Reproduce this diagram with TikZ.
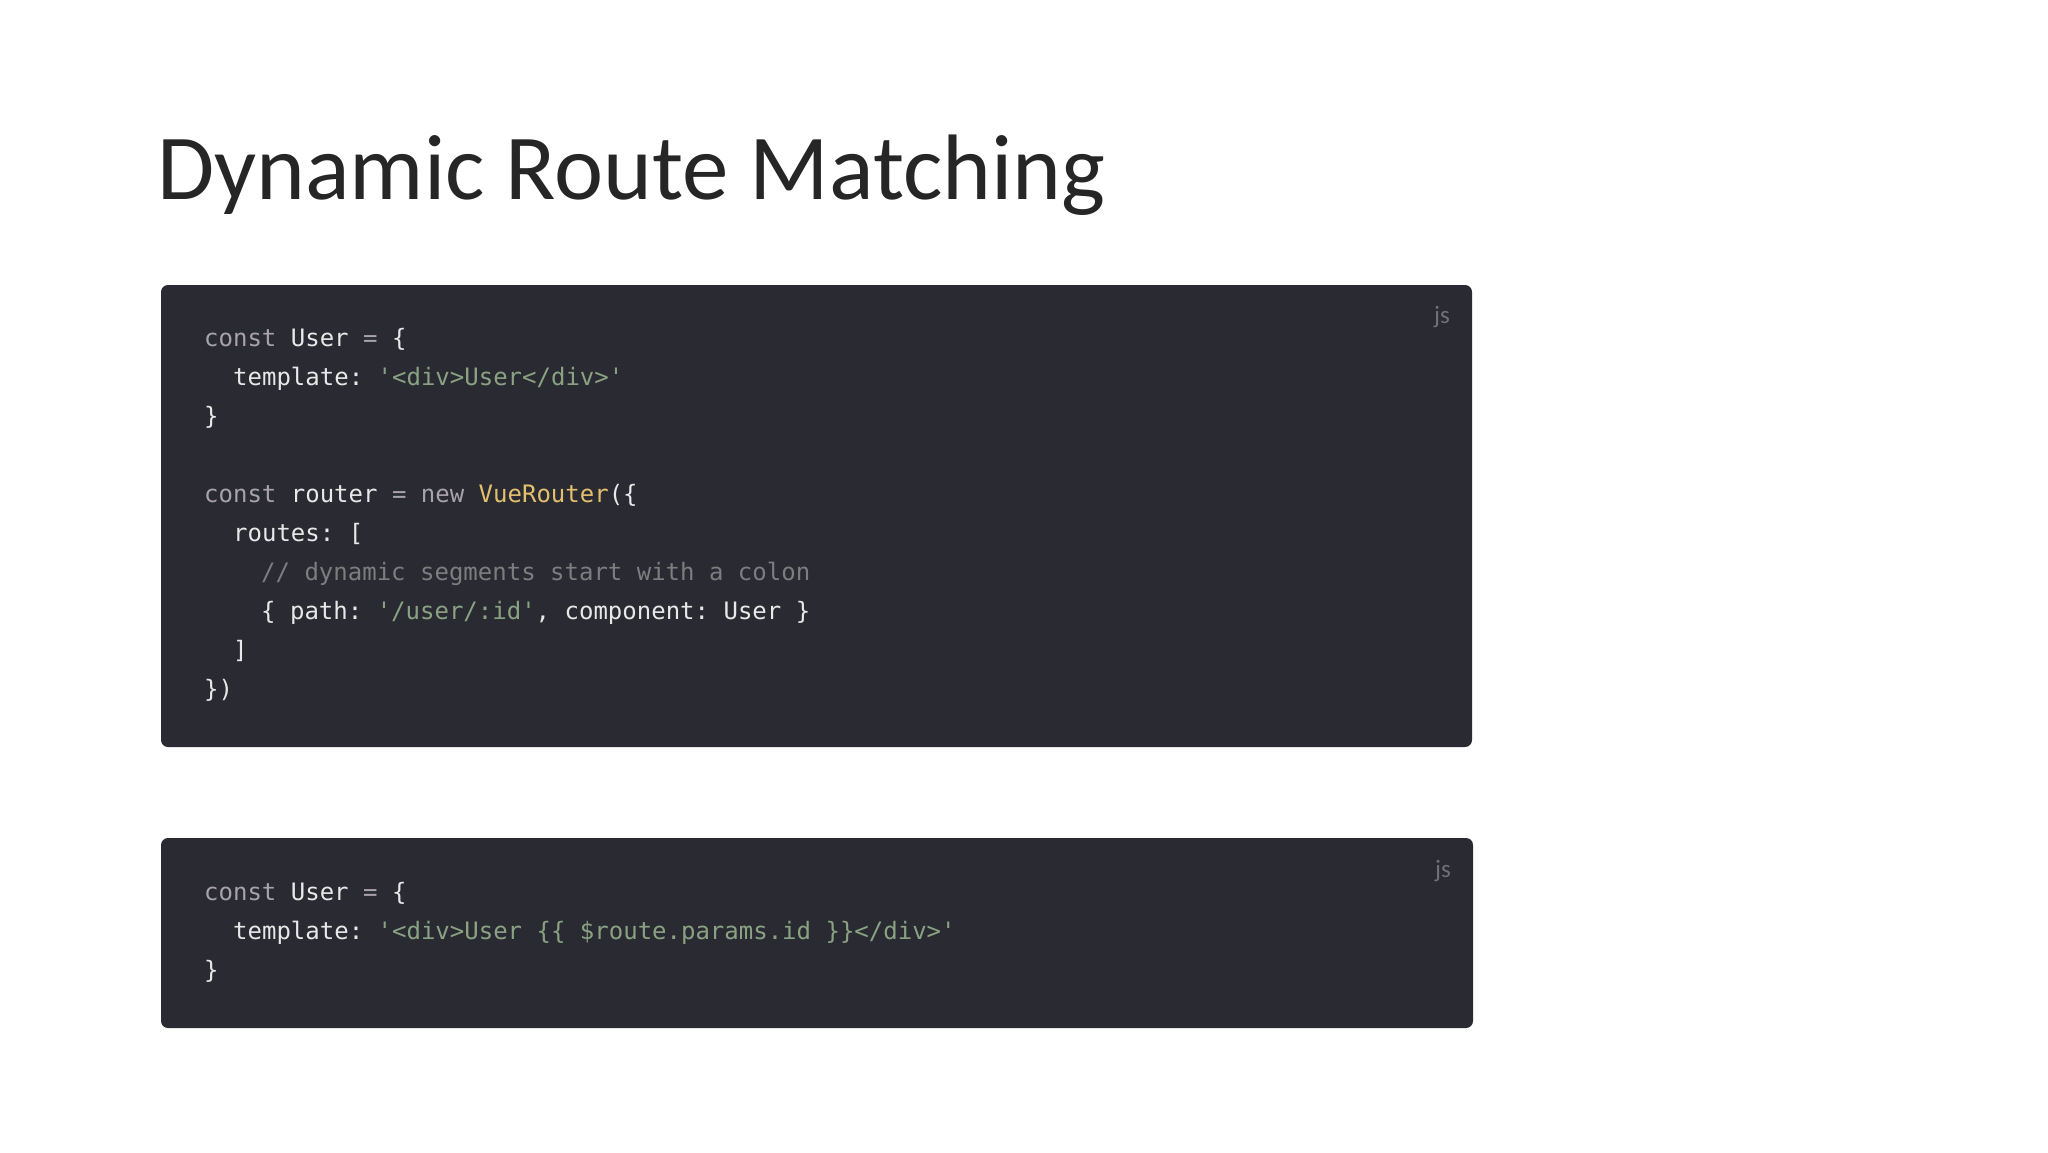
\documentclass[tikz,border=0pt]{standalone}
\usepackage{fontspec}
\setmainfont{Carlito}
\setmonofont{DejaVu Sans Mono}
\usetikzlibrary{positioning}
\definecolor{codebg}{RGB}{42,43,50}
\definecolor{codefg}{RGB}{232,232,232}
\definecolor{kwgray}{RGB}{168,162,172}
\definecolor{strgreen}{RGB}{138,162,130}
\definecolor{fnyellow}{RGB}{228,192,110}
\definecolor{cmtgray}{RGB}{125,125,128}
\definecolor{jsgray}{RGB}{112,112,118}
\newcommand{\codeSize}{\fontsize{24}{29}\selectfont}
\newcommand{\kw}[1]{\textcolor{kwgray}{#1}}
\newcommand{\strg}[1]{\textcolor{strgreen}{#1}}
\newcommand{\fnc}[1]{\textcolor{fnyellow}{#1}}
\newcommand{\cmt}[1]{\textcolor{cmtgray}{#1}}

\begin{document}
\begin{tikzpicture}[x=1pt, y=-1pt,
	codebox/.style={fill=codebg, rounded corners=7pt},
	codeline/.style={anchor=base west, inner sep=0pt, text=codefg, font=\ttfamily\codeSize},
	jslabel/.style={anchor=base, inner sep=0pt, text=jsgray, font=\fontsize{25}{28}\selectfont}]
		\useasboundingbox (0,0) rectangle (2048,1152);
		\node[anchor=base west, inner sep=0pt, text=black!85, font=\fontsize{93}{110}\selectfont] (title) at (157,199) {Dynamic Route Matching};
		%first code block
		\fill[codebox] (161,285) rectangle (1472,747);
		\node[jslabel] (js1) at (1442,323) {js};
		\node[codeline] (u1) at (204,346) {\kw{const} User \kw{=} \{};
		\node[codeline] (u2) at (233,385) {template: \strg{'<div>User</div>'}};
		\node[codeline] (u3) at (204,424) {\}};
		\node[codeline] (r1) at (204,502) {\kw{const} router \kw{= new} \fnc{VueRouter}(\{};
		\node[codeline] (r2) at (233,541) {routes: [};
		\node[codeline] (r3) at (261,580) {\cmt{// dynamic segments start with a colon}};
		\node[codeline] (r4) at (261,619) {\{ path: \strg{'/user/:id'}, component: User \}};
		\node[codeline] (r5) at (233,658) {]};
		\node[codeline] (r6) at (204,697) {\})};
		%second code block
		\fill[codebox] (161,838) rectangle (1473,1028);
		\node[jslabel] (js2) at (1443,877) {js};
		\node[codeline] (p1) at (204,900) {\kw{const} User \kw{=} \{};
		\node[codeline] (p2) at (233,939) {template: \strg{'<div>User \{\{ \$route.params.id \}\}</div>'}};
		\node[codeline] (p3) at (204,978) {\}};
	\end{tikzpicture}
\end{document}
